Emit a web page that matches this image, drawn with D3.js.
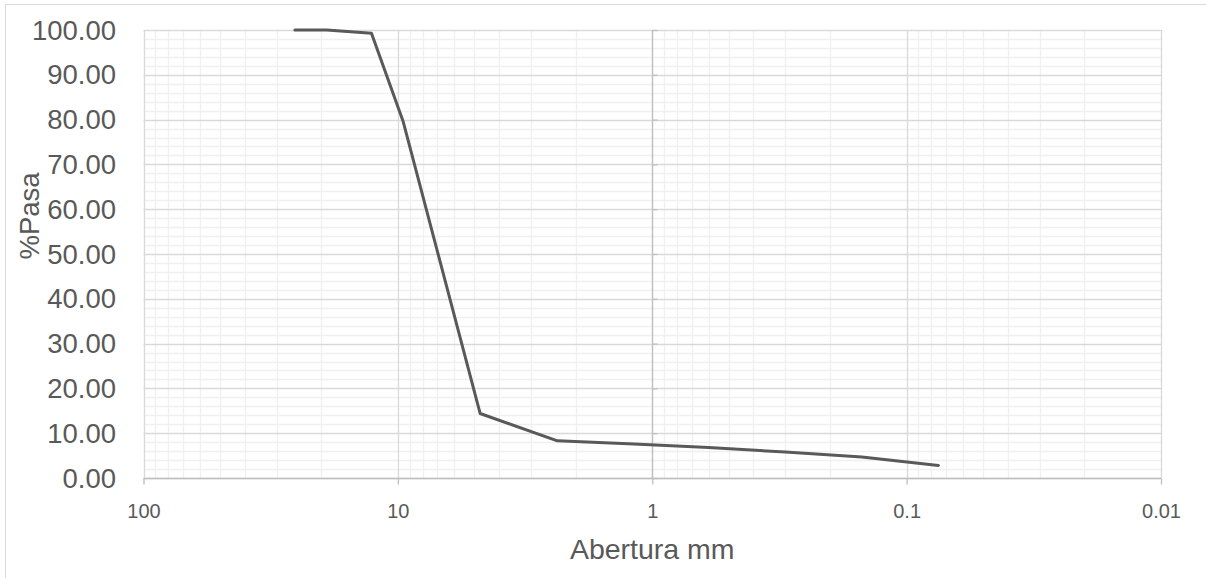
<!DOCTYPE html>
<html>
<head>
<meta charset="utf-8">
<script src="https://cdn.jsdelivr.net/npm/d3@7"></script>
<style>
  html, body { margin: 0; padding: 0; background: #fff; }
  svg { display: block; font-family: "Liberation Sans", Arial, sans-serif; }
</style>
</head>
<body>
<svg id="chart" width="1206" height="578"></svg>
<script>
// Data
const aberturas = [25.4, 19.05, 12.7, 9.525, 4.75, 2.36, 1.18, 0.6, 0.3, 0.15, 0.075];
const pasa      = [100, 100, 99.3, 79.5, 14.4, 8.3, 7.6, 6.8, 5.8, 4.7, 2.8];
const xTickValues = [100, 10, 1, 0.1, 0.01];
const xTickLabels = ["100", "10", "1", "0.1", "0.01"];
const yTickValues = [0, 10, 20, 30, 40, 50, 60, 70, 80, 90, 100];
const xTitle = "Abertura mm";
const yTitle = "%Pasa";

(function () {
const svg = d3.select("#chart");
const W = 1206, H = 578;
const pL = 143.5, pR = 1161, pT = 30, pB = 478;

const x = d3.scaleLog().domain([100, 0.01]).range([pL, pR]);
const y = d3.scaleLinear().domain([0, 100]).range([pB, pT]);

// chart border
svg.append("rect").attr("x", 5.5).attr("y", 4.5).attr("width", W + 10).attr("height", H + 10)
  .attr("fill", "none").attr("stroke", "#d9d9d9").attr("stroke-width", 1);

// minor x values
const minorX = [];
[10, 1, 0.1, 0.01].forEach(base => {
  for (let k = 2; k <= 9; k++) minorX.push(base * k);
});
const minorY = d3.range(0, 101, 2).filter(v => v % 10 !== 0);

const g = svg.append("g");
// minor gridlines
g.selectAll(".mx").data(minorX).join("line")
  .attr("x1", d => Math.round(x(d)) + 0.5).attr("x2", d => Math.round(x(d)) + 0.5)
  .attr("y1", pT).attr("y2", pB)
  .attr("stroke", "#f0f0f0").attr("stroke-width", 1.3);
g.selectAll(".my").data(minorY).join("line")
  .attr("x1", pL).attr("x2", pR)
  .attr("y1", d => Math.round(y(d)) + 0.5).attr("y2", d => Math.round(y(d)) + 0.5)
  .attr("stroke", "#f0f0f0").attr("stroke-width", 1.3);
// major gridlines
g.selectAll(".MY").data(yTickValues).join("line")
  .attr("x1", pL).attr("x2", pR)
  .attr("y1", d => Math.round(y(d)) + 0.5).attr("y2", d => Math.round(y(d)) + 0.5)
  .attr("stroke", "#d9d9d9").attr("stroke-width", 1.3);
g.selectAll(".MX").data(xTickValues).join("line")
  .attr("x1", d => Math.round(x(d)) + 0.5).attr("x2", d => Math.round(x(d)) + 0.5)
  .attr("y1", pT).attr("y2", pB)
  .attr("stroke", "#d9d9d9").attr("stroke-width", 1.3);

// y axis line at x = 1 (crossing), ticks toward right
const ax = Math.round(x(1)) + 0.5;
const yAxis = d3.axisRight(y).tickValues(yTickValues).tickSize(5).tickFormat("");
const ya = svg.append("g").attr("transform", `translate(${ax},0)`).call(yAxis);
ya.select(".domain").attr("stroke", "#bfbfbf").attr("stroke-width", 1.3).attr("d", `M0,${pT}V${pB}`);
ya.selectAll(".tick line").attr("stroke", "#bfbfbf").attr("stroke-width", 1.3);

// x axis at bottom
const xAxis = d3.axisBottom(x).tickValues(xTickValues).tickSize(6)
  .tickFormat((d, i) => xTickLabels[i]);
const xa = svg.append("g").attr("transform", `translate(0,${Math.round(pB) + 0.5})`).call(xAxis);
xa.select(".domain").attr("stroke", "#bfbfbf").attr("stroke-width", 1.3).attr("d", `M${pL},0H${pR}`);
xa.selectAll(".tick line").attr("stroke", "#bfbfbf").attr("stroke-width", 1.3);
xa.selectAll(".tick text").attr("y", 39).attr("dy", 0)
  .attr("font-size", 20).attr("fill", "#595959")
  .attr("font-family", "'Liberation Sans', Arial, sans-serif");

// y tick labels on left
svg.append("g").selectAll("text").data(yTickValues).join("text")
  .attr("x", 116).attr("y", d => y(d)).attr("dy", "0.35em")
  .attr("text-anchor", "end").attr("font-size", 27.5).attr("fill", "#595959")
  .text(d => d3.format(".2f")(d));

// line
const line = d3.line().x(d => x(d[0])).y(d => y(d[1]));
svg.append("path").datum(d3.zip(aberturas, pasa))
  .attr("d", line).attr("fill", "none")
  .attr("stroke", "#595959").attr("stroke-width", 3)
  .attr("stroke-linejoin", "round").attr("stroke-linecap", "round");

// titles
svg.append("text").attr("x", (pL + pR) / 2).attr("y", 559)
  .attr("text-anchor", "middle").attr("font-size", 28.5).attr("fill", "#595959")
  .text(xTitle);
svg.append("text").attr("transform", "translate(39,216) rotate(-90)")
  .attr("text-anchor", "middle").attr("font-size", 27.5).attr("fill", "#595959")
  .text(yTitle);
})();
</script>
</body>
</html>
